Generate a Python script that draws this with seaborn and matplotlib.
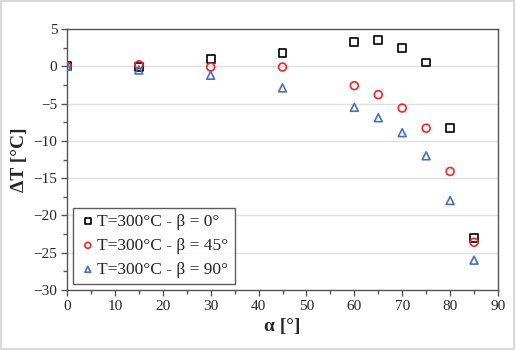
import matplotlib
matplotlib.use("Agg")
import matplotlib.pyplot as plt
import seaborn as sns
import pandas as pd
from matplotlib.ticker import MultipleLocator

alpha = [0, 15, 30, 45, 60, 65, 70, 75, 80, 85]
dT_b0 = [0.0, -0.1, 1.0, 1.8, 3.2, 3.5, 2.5, 0.5, -8.3, -23.0]
dT_b45 = [0.0, 0.2, -0.1, -0.1, -2.6, -3.8, -5.6, -8.3, -14.1, -23.6]
dT_b90 = [0.0, -0.5, -1.2, -2.9, -5.5, -6.9, -8.9, -12.0, -18.0, -26.0]
labels = ["T=300°C - β = 0°", "T=300°C - β = 45°", "T=300°C - β = 90°"]

df = pd.DataFrame({
    "alpha": alpha * 3,
    "dT": dT_b0 + dT_b45 + dT_b90,
    "series": [labels[0]] * 10 + [labels[1]] * 10 + [labels[2]] * 10,
})

sns.set_theme(style="white")
plt.rcParams['font.family'] = ['Liberation Serif', 'DejaVu Serif']

fig = plt.figure(figsize=(5.16, 3.5), dpi=100)
fig.patch.set_facecolor("white")
ax = fig.add_axes([67/516, 1-290/350, (498-67)/516, (290-29)/350])

colors = {labels[0]: "black", labels[1]: "#ff2020", labels[2]: "#4472c4"}
markers = {labels[0]: "s", labels[1]: "o", labels[2]: "^"}
for lab in labels:
    sub = df[df.series == lab]
    sns.scatterplot(data=sub, x="alpha", y="dT", ax=ax, marker=markers[lab],
                    facecolors="none", edgecolor=colors[lab], linewidth=1.2,
                    s=32, label=lab, zorder=3)

ax.set_xlim(0, 90)
ax.set_ylim(-30, 5)
ax.xaxis.set_major_locator(MultipleLocator(10))
ax.xaxis.set_minor_locator(MultipleLocator(5))
ax.yaxis.set_major_locator(MultipleLocator(5))
ax.yaxis.set_minor_locator(MultipleLocator(2.5))
ax.grid(axis="y", which="major", color="#e0e0e0", linewidth=1)
ax.set_axisbelow(True)
for sp in ax.spines.values():
    sp.set_color("#555555")
    sp.set_linewidth(1)
ax.tick_params(axis="both", which="major", direction="out", length=4, width=1,
               color="#555555", labelsize=11, pad=3, bottom=True, left=True)
ax.tick_params(axis="both", which="minor", direction="out", length=3, width=1,
               color="#555555", bottom=True, left=True)
ax.set_xlabel("α [°]", fontsize=14, fontweight="bold", labelpad=4)
ax.set_ylabel("ΔT [°C]", fontsize=14, fontweight="bold", labelpad=4)

leg = ax.legend(loc="lower left", bbox_to_anchor=(0.0, 0.0), fontsize=12.5,
                frameon=True, fancybox=False, handletextpad=0.05,
                borderpad=0.35, labelspacing=0.45, handlelength=1.0,
                borderaxespad=0.35, markerscale=0.75)
leg.get_frame().set_edgecolor("#333333")
leg.get_frame().set_linewidth(1)

rect = plt.Rectangle((0.002, 0.003), 0.995, 0.994, transform=fig.transFigure,
                     fill=False, edgecolor="#d9d9d9", linewidth=1.5)
fig.patches.append(rect)

fig.savefig("out.png", dpi=100)
